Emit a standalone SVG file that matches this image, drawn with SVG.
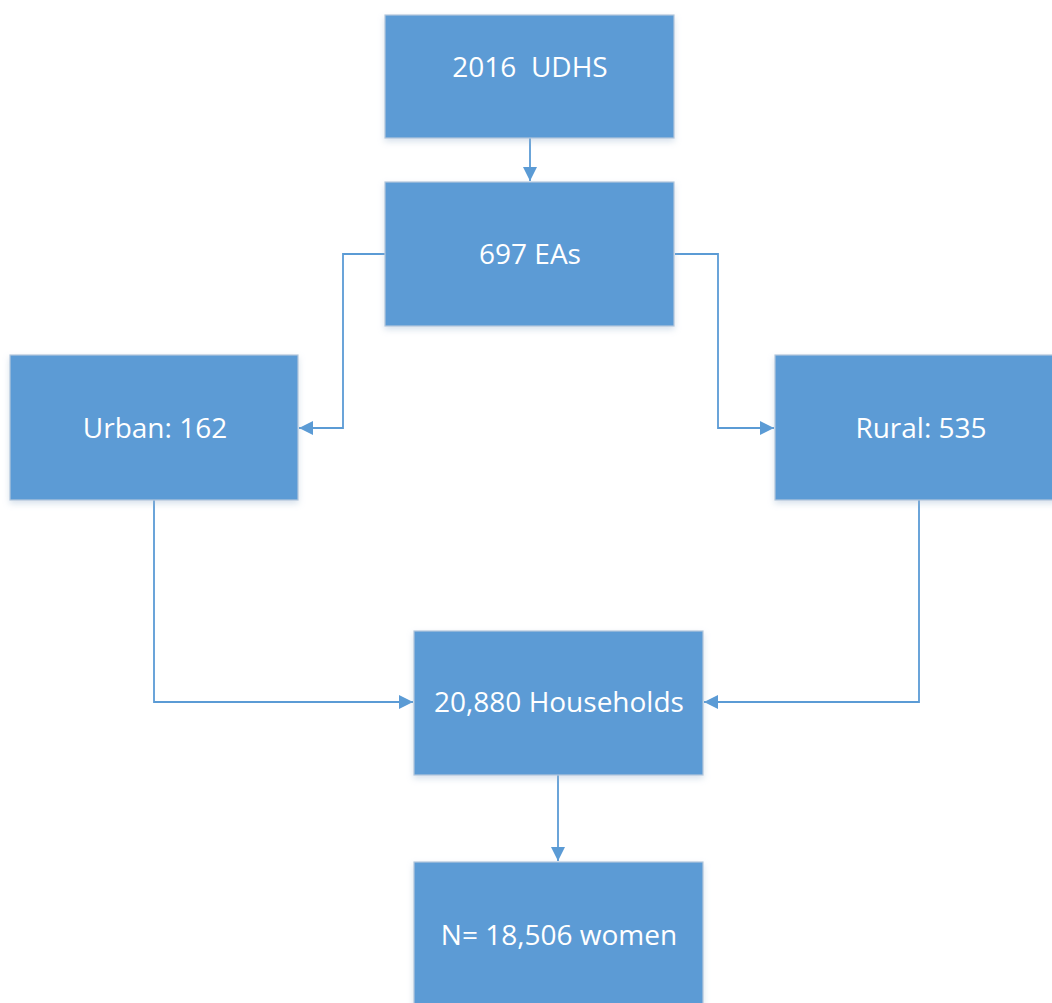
<svg xmlns="http://www.w3.org/2000/svg" width="1052" height="1003" viewBox="0 0 1052 1003">
<defs>
<style>
.box{fill:#5B9BD5;stroke:#B4C7DC;stroke-width:1.2}
.lbl{font-family:"Open Sans","Noto Sans",sans-serif;font-size:28px;fill:#FFFFFF;text-anchor:middle}
.con{fill:none;stroke:#5B9BD5;stroke-width:1.8}
</style>
<marker id="arr" viewBox="0 0 10 10" refX="10" refY="5" markerWidth="14" markerHeight="14" markerUnits="userSpaceOnUse" orient="auto">
<path d="M0,0 L10,5 L0,10 z" fill="#5B9BD5"/>
</marker>
<filter id="sh" x="-10%" y="-10%" width="120%" height="130%">
<feDropShadow dx="0" dy="3" stdDeviation="3" flood-color="#9DB5D0" flood-opacity="0.4"/>
</filter>
</defs>
<rect width="1052" height="1003" fill="#FFFFFF"/>
<g id="connectors">
<path class="con" d="M530,138 V181" marker-end="url(#arr)"/>
<path class="con" d="M385,254 H343 V428 H299" marker-end="url(#arr)"/>
<path class="con" d="M675,254 H718 V428 H774" marker-end="url(#arr)"/>
<path class="con" d="M154,500 V702 H413" marker-end="url(#arr)"/>
<path class="con" d="M919,500 V702 H704" marker-end="url(#arr)"/>
<path class="con" d="M558,775 V861" marker-end="url(#arr)"/>
</g>
<g id="udhs">
<rect class="box" x="385" y="15" width="289" height="123" filter="url(#sh)"/>
<text class="lbl" x="530" y="77" xml:space="preserve">2016  UDHS</text>
</g>
<g id="eas">
<rect class="box" x="385" y="182" width="289" height="144" filter="url(#sh)"/>
<text class="lbl" x="530" y="264">697 EAs</text>
</g>
<g id="urban">
<rect class="box" x="10" y="355" width="288" height="145" filter="url(#sh)"/>
<text class="lbl" x="155" y="438">Urban: 162</text>
</g>
<g id="rural">
<rect class="box" x="775" y="355" width="282" height="145" filter="url(#sh)"/>
<text class="lbl" x="921" y="438">Rural: 535</text>
</g>
<g id="households">
<rect class="box" x="414" y="631" width="289" height="144" filter="url(#sh)"/>
<text class="lbl" x="559" y="712">20,880 Households</text>
</g>
<g id="women">
<rect class="box" x="414" y="862" width="289" height="150" filter="url(#sh)"/>
<text class="lbl" x="559" y="945">N= 18,506 women</text>
</g>
</svg>
